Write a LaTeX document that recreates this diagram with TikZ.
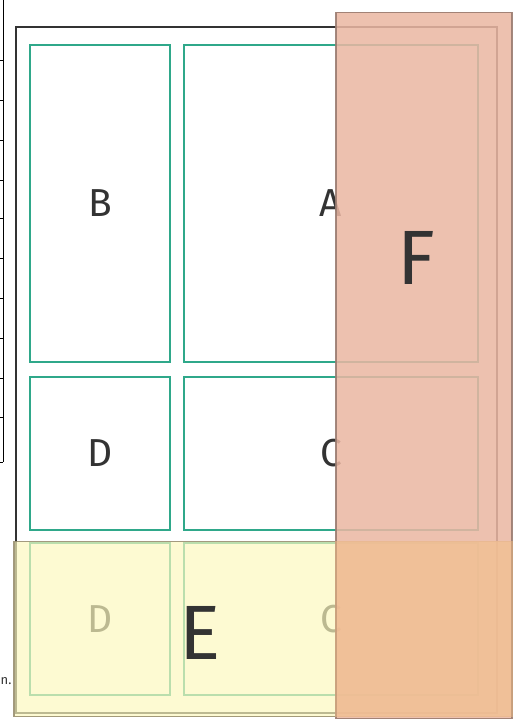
\documentclass[tikz,border=0pt]{standalone}
\usepackage{fontspec}
\setmainfont{Fira Sans}
\definecolor{teal1}{HTML}{2FA88A}
\definecolor{frameC}{HTML}{333333}
\definecolor{yelF}{HTML}{FDF9BE}
\definecolor{yelD}{HTML}{9A9070}
\definecolor{pinkF}{HTML}{EBB7A3}
\definecolor{pinkD}{HTML}{9A7C70}
\definecolor{orangeF}{HTML}{F4C088}
\definecolor{txt}{HTML}{333333}
\tikzset{
  box/.style={draw=teal1, line width=2.6pt, inner sep=0pt, text=txt,
    font=\fontsize{39}{39}\selectfont},
  frame/.style={draw=frameC, line width=2.6pt, inner sep=0pt},
  overE/.style={draw=yelD, line width=1.6pt, fill=yelF, fill opacity=0.68, draw opacity=0.9, inner sep=0pt},
  overF/.style={draw=pinkD, line width=1.6pt, fill=pinkF, fill opacity=0.86, draw opacity=0.9, inner sep=0pt},
  overlap/.style={fill=orangeF, fill opacity=0.5, draw=none},
  big/.style={text=txt, font=\fontsize{77}{77}\selectfont, inner sep=0pt},
  tick/.style={draw=black, line width=0.8pt}
}
\begin{document}
\begin{tikzpicture}[x=1pt,y=-1pt]
\useasboundingbox (0,0) rectangle (517,719);
\fill[white] (0,0) rectangle (517,719);
% left strip (cut-off table edge)
\coordinate (s0) at (3,0);
\coordinate (s1) at (3,462);
\draw[tick] (s0) -- (s1);
\foreach \yy in {60,100,140,180,218,258,298,338,378,417,462}{
  \coordinate (ta) at (0,\yy); \coordinate (tb) at (3,\yy);
  \draw[tick] (ta) -- (tb);
}
\node[anchor=west, inner sep=0pt, font=\fontsize{13}{13}\selectfont, text=txt] (ntext) at (0.5,681) {n.};
% outer frame
\node[frame, minimum width=481pt, minimum height=686pt] (frame) at (256.5,370) {};
% boxes
\node[box, minimum width=140pt, minimum height=317pt] (B) at (100,203.5) {B};
\node[box, minimum width=294pt, minimum height=317pt] (A) at (331,203.5) {A};
\node[box, minimum width=140pt, minimum height=153pt] (D) at (100,453.5) {D};
\node[box, minimum width=294pt, minimum height=153pt] (C) at (331,453.5) {C};
\node[box, minimum width=140pt, minimum height=152pt] (D2) at (100,619) {D};
\node[box, minimum width=294pt, minimum height=152pt] (C2) at (331,619) {C};
% overlays
\node[overE, minimum width=498pt, minimum height=175pt] (E) at (263,629) {};
\node[overF, minimum width=176pt, minimum height=706pt] (F) at (424,365.5) {};
\fill[overlap] (F.west |- E.north) rectangle (F.east |- E.south);
\node[big] (Elab) at (200,633) {E};
\node[big] (Flab) at (416,258) {F};
\end{tikzpicture}
\end{document}
